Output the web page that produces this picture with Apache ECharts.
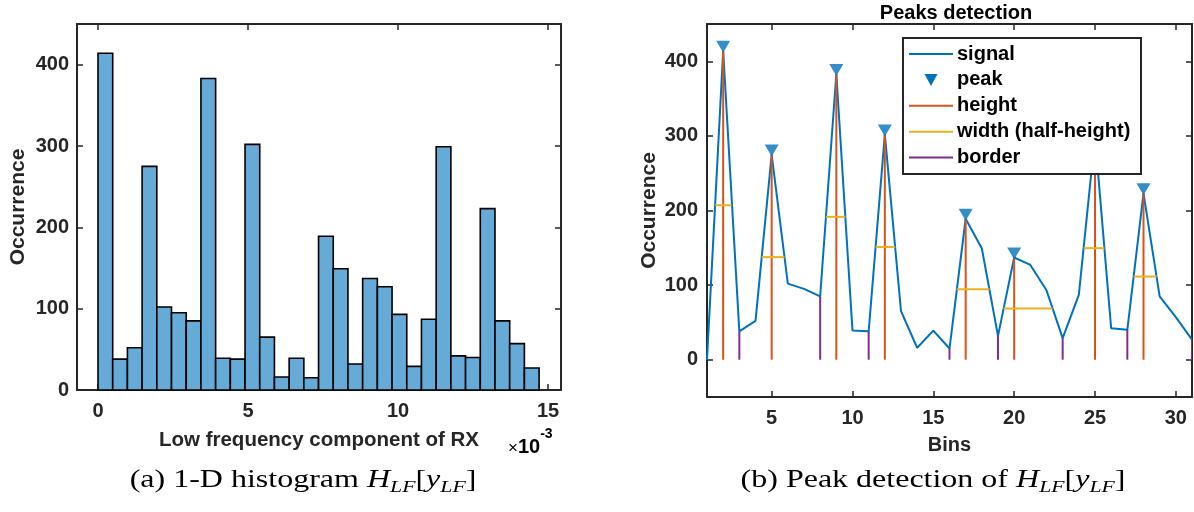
<!DOCTYPE html>
<html>
<head>
<meta charset="utf-8">
<script src="https://cdn.jsdelivr.net/npm/echarts@6/dist/echarts.min.js"></script>
<style>
html,body{margin:0;padding:0;background:#fff;}
#chart{width:1194px;height:512px;}
</style>
</head>
<body>
<div id="chart"></div>
<script>
// ---------- data ----------
const histEdges = [0, 0.49, 0.98, 1.47, 1.96, 2.45, 2.94, 3.43, 3.92, 4.41, 4.90, 5.39, 5.88, 6.37, 6.86, 7.35,
  7.84, 8.33, 8.82, 9.31, 9.80, 10.29, 10.78, 11.27, 11.76, 12.25, 12.74, 13.23, 13.72, 14.21, 14.70];
const histCounts = [414, 38, 52, 275, 102, 95, 85, 383, 39, 38, 302, 65, 16, 39, 15, 189, 149, 32, 137, 127,
  93, 29, 87, 299, 42, 40, 223, 85, 57, 27];

const bins = [1, 2, 3, 4, 5, 6, 7, 8, 9, 10, 11, 12, 13, 14, 15, 16, 17, 18, 19, 20, 21, 22, 23, 24, 25, 26, 27, 28, 29, 30, 31];
const signal = [0, 414, 38, 52, 275, 102, 95, 85, 383, 39, 38, 302, 65, 16, 39, 15, 189, 149, 32, 137, 127,
  93, 29, 87, 299, 42, 40, 223, 85, 57, 27];

const peakLocs = [2, 5, 9, 12, 17, 20, 25, 28];
const peakValues = [414, 275, 383, 302, 189, 137, 299, 223];
const widthLeft = [1.50, 4.38, 8.36, 11.43, 16.45, 19.35, 24.30, 27.39];
const widthRight = [2.53, 5.79, 9.56, 12.64, 18.47, 22.38, 25.58, 28.81];
const halfHeights = [207, 137.5, 191.5, 151, 94.5, 68.5, 149.5, 111.5];
const borderLocs = [1, 3, 8, 11, 16, 19, 23, 27, 31];
const borderValues = [0, 38, 85, 38, 15, 32, 29, 40, 27];

const leftXTicks = [0, 5, 10, 15];
const leftYTicks = [0, 100, 200, 300, 400];
const rightXTicks = [5, 10, 15, 20, 25, 30];
const rightYTicks = [0, 100, 200, 300, 400];

const legendNames = ['signal', 'peak', 'height', 'width (half-height)', 'border'];

// ---------- styles ----------
const AX = '#262626';
const SANS = "'Liberation Sans', Arial, Helvetica, sans-serif";
const SERIF = "'Liberation Serif', 'Times New Roman', serif";
const C_SIGNAL = '#0072BD', C_HEIGHT = '#D95319', C_WIDTH = '#EDB120', C_BORDER = '#7E2F8E';

function mainAxis(opts) {
  return Object.assign({
    type: 'value',
    axisLine: { show: true, onZero: false, lineStyle: { color: AX, width: 2 } },
    axisTick: { show: true, inside: true, length: 6, lineStyle: { color: AX, width: 1.5 } },
    splitLine: { show: false },
    axisLabel: { color: AX, fontFamily: SANS, fontWeight: 'bold', fontSize: 20 },
    nameTextStyle: { color: AX, fontFamily: SANS, fontWeight: 'bold', fontSize: 20 },
    nameLocation: 'middle'
  }, opts);
}
function mirrorAxis(opts, ticks) {
  return Object.assign({
    type: 'value',
    axisLine: { show: true, onZero: false, lineStyle: { color: AX, width: 2 } },
    axisTick: { show: true, inside: true, length: 6, customValues: ticks, lineStyle: { color: AX, width: 1.5 } },
    splitLine: { show: false },
    axisLabel: { show: false }
  }, opts);
}

const histData = histCounts.map((c, i) => [histEdges[i], histEdges[i + 1], c]);
const signalData = bins.map((b, i) => [b, signal[i]]);
const peakData = peakLocs.map((p, i) => [p, peakValues[i]]);
const heightData = peakLocs.map((p, i) => [p, peakValues[i]]);
const widthData = widthLeft.map((l, i) => [l, widthRight[i], halfHeights[i]]);
const borderData = borderLocs.map((b, i) => [b, borderValues[i]]);

function vLine(color) {
  return function (params, api) {
    const a = api.coord([api.value(0), 0]);
    const b = api.coord([api.value(0), api.value(1)]);
    return { type: 'line', shape: { x1: a[0], y1: a[1], x2: b[0], y2: b[1] }, style: { stroke: color, lineWidth: 2 } };
  };
}

const chart = echarts.init(document.getElementById('chart'), null, { renderer: 'canvas' });

// legend graphic
const legendItems = [];
const lgX = 903, lgY = 38, lgRow = 25.9;
legendItems.push({ type: 'rect', shape: { x: lgX, y: lgY, width: 238, height: 136 },
  style: { fill: '#fff', stroke: AX, lineWidth: 2 }, z: 100 });
const legendColors = [C_SIGNAL, C_SIGNAL, C_HEIGHT, C_WIDTH, C_BORDER];
legendNames.forEach((nm, i) => {
  const cy = lgY + 16 + i * lgRow;
  if (i === 1) {
    legendItems.push({ type: 'polygon', shape: { points: [[924.5, cy - 6], [937.5, cy - 6], [931, cy + 6]] },
      style: { fill: C_SIGNAL }, z: 101 });
  } else {
    legendItems.push({ type: 'line', shape: { x1: 909, y1: cy, x2: 953, y2: cy },
      style: { stroke: legendColors[i], lineWidth: 2 }, z: 101 });
  }
  legendItems.push({ type: 'text', x: 957, y: cy, z: 101,
    style: { text: nm, fill: '#000', font: 'bold 20px ' + SANS, align: 'left', verticalAlign: 'middle' } });
});

const capRich = {
  n: { fontFamily: SERIF, fontSize: 25, lineHeight: 32, color: '#111' },
  i: { fontFamily: SERIF, fontSize: 25, fontStyle: 'italic', lineHeight: 32, color: '#111' },
  s: { fontFamily: SERIF, fontSize: 17, fontStyle: 'italic', lineHeight: 17, verticalAlign: 'bottom', color: '#111' }
};

const option = {
  animation: false,
  backgroundColor: '#fff',
  title: {
    text: 'Peaks detection', left: 951, top: -2, textAlign: 'center',
    textStyle: { fontFamily: SANS, fontWeight: 'bold', fontSize: 20, color: '#000' }
  },
  grid: [
    { left: 77, top: 24, width: 484, height: 366 },
    { left: 707, top: 24, width: 485, height: 373 }
  ],
  xAxis: [
    mainAxis({ gridIndex: 0, position: 'bottom', min: -0.7, max: 15.43, name: 'Low frequency component of RX', nameGap: 40,
      nameTextStyle: { color: AX, fontFamily: SANS, fontWeight: 'bold', fontSize: 20.5 },
      axisLabel: { color: AX, fontFamily: SANS, fontWeight: 'bold', fontSize: 20, margin: 11, customValues: leftXTicks },
      axisTick: { show: true, inside: true, length: 6, customValues: leftXTicks, lineStyle: { color: AX, width: 1.5 } } }),
    mainAxis({ gridIndex: 1, position: 'bottom', min: 1, max: 31, name: 'Bins', nameGap: 38,
      axisLabel: { color: AX, fontFamily: SANS, fontWeight: 'bold', fontSize: 20, margin: 11, customValues: rightXTicks },
      axisTick: { show: true, inside: true, length: 6, customValues: rightXTicks, lineStyle: { color: AX, width: 1.5 } } }),
    mirrorAxis({ gridIndex: 0, position: 'top', min: -0.7, max: 15.43 }, leftXTicks),
    mirrorAxis({ gridIndex: 1, position: 'top', min: 1, max: 31 }, rightXTicks)
  ],
  yAxis: [
    mainAxis({ gridIndex: 0, position: 'left', min: 0, max: 450, name: 'Occurrence', nameGap: 48,
      nameTextStyle: { color: AX, fontFamily: SANS, fontWeight: 'bold', fontSize: 21 },
      axisLabel: { color: AX, fontFamily: SANS, fontWeight: 'bold', fontSize: 20, margin: 8, customValues: leftYTicks },
      axisTick: { show: true, inside: true, length: 6, customValues: leftYTicks, lineStyle: { color: AX, width: 1.5 } } }),
    mainAxis({ gridIndex: 1, position: 'left', min: -50, max: 450, name: 'Occurrence', nameGap: 47,
      nameTextStyle: { color: AX, fontFamily: SANS, fontWeight: 'bold', fontSize: 21 },
      axisLabel: { color: AX, fontFamily: SANS, fontWeight: 'bold', fontSize: 20, margin: 9, customValues: rightYTicks },
      axisTick: { show: true, inside: true, length: 6, customValues: rightYTicks, lineStyle: { color: AX, width: 1.5 } } }),
    mirrorAxis({ gridIndex: 0, position: 'right', min: 0, max: 450 }, leftYTicks),
    mirrorAxis({ gridIndex: 1, position: 'right', min: -50, max: 450 }, rightYTicks)
  ],
  series: [
    {
      type: 'custom', name: 'histogram', xAxisIndex: 0, yAxisIndex: 0, data: histData,
      encode: { x: [0, 1], y: 2 },
      renderItem: function (params, api) {
        const p0 = api.coord([api.value(0), api.value(2)]);
        const p1 = api.coord([api.value(1), 0]);
        return { type: 'rect', shape: { x: p0[0], y: p0[1], width: p1[0] - p0[0], height: p1[1] - p0[1] },
          style: { fill: '#66AAD7', stroke: '#000', lineWidth: 1.6 } };
      }
    },
    {
      type: 'line', name: 'signal', xAxisIndex: 1, yAxisIndex: 1, data: signalData,
      symbol: 'none', lineStyle: { color: C_SIGNAL, width: 2 }, z: 2, clip: true
    },
    {
      type: 'custom', name: 'height', xAxisIndex: 1, yAxisIndex: 1, data: heightData, z: 3, clip: true,
      encode: { x: 0, y: 1 }, renderItem: vLine(C_HEIGHT)
    },
    {
      type: 'custom', name: 'width (half-height)', xAxisIndex: 1, yAxisIndex: 1, data: widthData, z: 4, clip: true,
      encode: { x: [0, 1], y: 2 },
      renderItem: function (params, api) {
        const a = api.coord([api.value(0), api.value(2)]);
        const b = api.coord([api.value(1), api.value(2)]);
        return { type: 'line', shape: { x1: a[0], y1: a[1], x2: b[0], y2: b[1] }, style: { stroke: C_WIDTH, lineWidth: 2 } };
      }
    },
    {
      type: 'custom', name: 'border', xAxisIndex: 1, yAxisIndex: 1, data: borderData, z: 4, clip: true,
      encode: { x: 0, y: 1 }, renderItem: vLine(C_BORDER)
    },
    {
      type: 'scatter', name: 'peak', xAxisIndex: 1, yAxisIndex: 1, data: peakData, z: 5,
      symbol: 'triangle', symbolRotate: 180, symbolSize: [14, 12], symbolOffset: [0, -4],
      itemStyle: { color: C_SIGNAL }
    }
  ],
  graphic: legendItems.concat([
    { type: 'text', x: 508, y: 442,
      style: { text: '{a|×}{b|10}{c|-3}', align: 'left', verticalAlign: 'middle',
        rich: {
          a: { fontFamily: SANS, fontSize: 17, color: AX, lineHeight: 22, verticalAlign: 'bottom' },
          b: { fontFamily: SANS, fontWeight: 'bold', fontSize: 20, color: AX, lineHeight: 22, verticalAlign: 'bottom' },
          c: { fontFamily: SANS, fontWeight: 'bold', fontSize: 14, color: AX, lineHeight: 30, verticalAlign: 'top' }
        } } },
    { type: 'text', x: 303, y: 480, scaleX: 1.28,
      style: { text: '{n|(a) 1-D histogram }{i|H}{s|LF}{n|[}{i|y}{s|LF}{n|]}', align: 'center', verticalAlign: 'middle', rich: capRich } },
    { type: 'text', x: 933, y: 480, scaleX: 1.28,
      style: { text: '{n|(b) Peak detection of }{i|H}{s|LF}{n|[}{i|y}{s|LF}{n|]}', align: 'center', verticalAlign: 'middle', rich: capRich } }
  ])
};

chart.setOption(option);
</script>
</body>
</html>
